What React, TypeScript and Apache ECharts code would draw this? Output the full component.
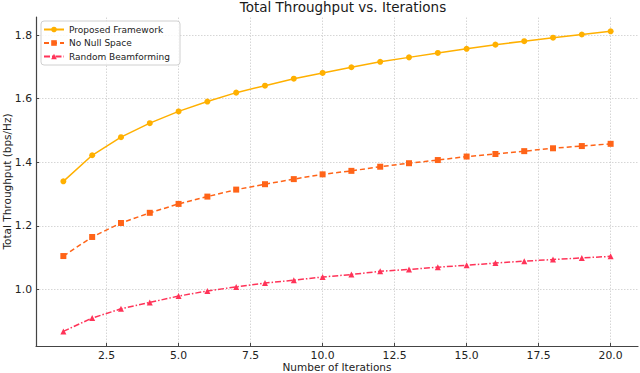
import React, { useEffect, useRef } from "react";
import * as echarts from "echarts";

const iterations = [1, 2, 3, 4, 5, 6, 7, 8, 9, 10, 11, 12, 13, 14, 15, 16, 17, 18, 19, 20];
const proposed = [1.34, 1.422, 1.479, 1.523, 1.56, 1.591, 1.619, 1.641, 1.663, 1.681, 1.699, 1.716, 1.73, 1.744, 1.757, 1.77, 1.781, 1.792, 1.802, 1.812];
const noNullSpace = [1.105, 1.165, 1.209, 1.241, 1.269, 1.292, 1.314, 1.331, 1.347, 1.362, 1.373, 1.386, 1.397, 1.407, 1.418, 1.426, 1.435, 1.444, 1.451, 1.458];
const randomBF = [0.868, 0.91, 0.939, 0.959, 0.979, 0.995, 1.008, 1.02, 1.029, 1.039, 1.047, 1.057, 1.063, 1.07, 1.076, 1.083, 1.089, 1.094, 1.099, 1.104];
const xTicks = [2.5, 5.0, 7.5, 10.0, 12.5, 15.0, 17.5, 20.0];
const yTicks = [1.0, 1.2, 1.4, 1.6, 1.8];

const FONT = "DejaVu Sans";

export default function App() {
  const ref = useRef<HTMLDivElement>(null);
  useEffect(() => {
    if (!ref.current) return;
    const chart = echarts.init(ref.current, undefined, { renderer: "svg" });
    const pair = (ys: number[]) => iterations.map((x, i) => [x, ys[i]]);
    const gridLine = { color: "#cccccc", width: 0.8, type: [1.5, 1.5] as any };
    chart.setOption({
      animation: false,
      backgroundColor: "#ffffff",
      title: {
        text: "Total Throughput vs. Iterations",
        left: 338,
        textAlign: "center",
        top: -5,
        textStyle: { fontFamily: FONT, fontSize: 13.5, fontWeight: "normal", color: "#1a1a1a" },
      },
      grid: { left: 36, right: 2, top: 17, bottom: 27, containLabel: false, outerBoundsMode: "none" },
      legend: {
        orient: "vertical",
        left: 41,
        top: 21,
        padding: [3, 10, 3, 2],
        itemGap: 2.5,
        itemWidth: 20,
        itemHeight: 7,
        backgroundColor: "rgba(255,255,255,0.85)",
        borderColor: "#d0d0d0",
        borderWidth: 1,
        borderRadius: 3,
        textStyle: { fontFamily: FONT, fontSize: 9, color: "#222", lineHeight: 11 },
        data: ["Proposed Framework", "No Null Space", "Random Beamforming"],
      },
      xAxis: {
        type: "value",
        min: 0.05,
        max: 20.95,
        name: "Number of Iterations",
        nameLocation: "middle",
        nameGap: 15,
        nameMoveOverlap: false,
        nameTextStyle: { fontFamily: FONT, fontSize: 10.5, color: "#222" },
        axisLine: { show: true, lineStyle: { color: "#444", width: 1.2 } },
        axisTick: { show: true, inside: true, length: 3, customValues: xTicks, lineStyle: { color: "#444" } },
        axisLabel: {
          customValues: xTicks,
          margin: 4,
          fontFamily: FONT,
          fontSize: 10.8,
          color: "#222",
          formatter: (v: number) => v.toFixed(1),
        },
        splitLine: { show: false },
      },
      yAxis: {
        type: "value",
        min: 0.822,
        max: 1.857,
        name: "Total Throughput (bps/Hz)",
        nameLocation: "middle",
        nameGap: 24,
        nameMoveOverlap: false,
        nameTextStyle: { fontFamily: FONT, fontSize: 10.5, color: "#222" },
        axisLine: { show: true, lineStyle: { color: "#444", width: 1.2 } },
        axisTick: { show: true, inside: true, length: 3, customValues: yTicks, lineStyle: { color: "#444" } },
        axisLabel: {
          customValues: yTicks,
          margin: 4,
          fontFamily: FONT,
          fontSize: 10.8,
          color: "#222",
          formatter: (v: number) => v.toFixed(1),
        },
        splitLine: { show: false },
      },
      series: [
        {
          name: "Proposed Framework",
          type: "line",
          data: pair(proposed),
          symbol: "circle",
          symbolSize: 6,
          color: "#ffb000",
          lineStyle: { width: 1.5, type: "solid" },
          z: 5,
          markLine: {
            silent: true,
            symbol: "none",
            label: { show: false },
            lineStyle: gridLine,
            z: 0,
            data: [
              ...xTicks.map((v) => ({ xAxis: v })),
              ...yTicks.map((v) => ({ yAxis: v })),
            ],
          },
        },
        {
          name: "No Null Space",
          type: "line",
          data: pair(noNullSpace),
          symbol: "rect",
          symbolSize: 6,
          color: "#ff6418",
          lineStyle: { width: 1.5, type: [5, 3] },
          z: 4,
        },
        {
          name: "Random Beamforming",
          type: "line",
          data: pair(randomBF),
          symbol: "triangle",
          symbolSize: 6,
          color: "#ff3358",
          lineStyle: { width: 1.5, type: [6, 2, 1.5, 2] },
          z: 3,
        },
      ],
    });
    return () => chart.dispose();
  }, []);
  return <div ref={ref} style={{ width: 640, height: 373, position: "absolute", left: 0, top: 0 }} />;
}
